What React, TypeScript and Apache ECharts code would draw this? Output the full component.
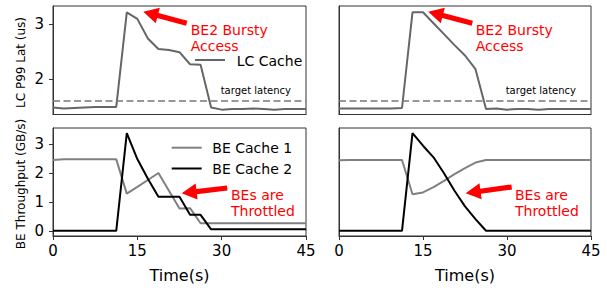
import React, { useEffect, useRef } from "react";
import * as echarts from "echarts";

const times = [0, 1.875, 3.75, 5.625, 7.5, 9.375, 11.25, 13.125, 15, 16.875, 18.75, 20.625, 22.5, 24.375, 26.25, 28.125, 30, 31.875, 33.75, 35.625, 37.5, 39.375, 41.25, 43.125, 45];

// LC P99 latency (us)
const lcLeft = [1.48, 1.46, 1.47, 1.48, 1.49, 1.49, 1.49, 3.22, 3.10, 2.74, 2.55, 2.53, 2.49, 2.27, 2.26, 1.48, 1.44, 1.45, 1.45, 1.46, 1.45, 1.44, 1.45, 1.45, 1.45];
const lcRight = [1.46, 1.46, 1.46, 1.46, 1.46, 1.46, 1.47, 3.22, 3.22, 3.02, 2.82, 2.62, 2.43, 2.18, 1.45, 1.46, 1.44, 1.45, 1.45, 1.44, 1.45, 1.45, 1.45, 1.45, 1.45];
const targetLatency = 1.6;

// BE throughput (GB/s)
const be1Left = [2.46, 2.48, 2.48, 2.48, 2.48, 2.48, 2.48, 1.30, 1.53, 1.77, 2.01, 1.40, 0.79, 0.80, 0.28, 0.28, 0.28, 0.28, 0.28, 0.28, 0.28, 0.28, 0.28, 0.28, 0.28];
const be2Left = [0.02, 0.02, 0.02, 0.02, 0.02, 0.02, 0.02, 3.38, 2.49, 1.81, 1.19, 1.19, 1.19, 0.57, 0.57, 0.07, 0.07, 0.07, 0.07, 0.07, 0.07, 0.07, 0.07, 0.07, 0.07];
const be1Right = [2.45, 2.46, 2.46, 2.46, 2.46, 2.46, 2.46, 1.28, 1.34, 1.52, 1.74, 1.97, 2.18, 2.37, 2.46, 2.46, 2.46, 2.46, 2.46, 2.46, 2.46, 2.46, 2.46, 2.46, 2.46];
const be2Right = [0.02, 0.02, 0.02, 0.02, 0.02, 0.02, 0.02, 3.38, 2.95, 2.55, 2.0, 1.40, 0.86, 0.42, 0.02, 0.02, 0.02, 0.02, 0.02, 0.02, 0.02, 0.02, 0.02, 0.02, 0.02];

const xTicks = [0, 15, 30, 45];
const topYTicks = [2, 3];
const bottomYTicks = [0, 1, 2, 3];

const FONT = "DejaVu Sans";
const AXIS = "#333";

const pairs = (vals: number[]) => times.map((t, i) => [t, vals[i]]);

function arrow(x1: number, y1: number, x2: number, y2: number) {
  const dx = x2 - x1;
  const dy = y2 - y1;
  const len = Math.sqrt(dx * dx + dy * dy);
  const ux = dx / len;
  const uy = dy / len;
  const nx = -uy;
  const ny = ux;
  const w = 2.6;
  const h = 8;
  const L = 15;
  const bx = x2 - ux * L;
  const by = y2 - uy * L;
  return {
    type: "polygon",
    silent: true,
    shape: {
      points: [
        [x1 + nx * w, y1 + ny * w],
        [bx + nx * w, by + ny * w],
        [bx + nx * h, by + ny * h],
        [x2, y2],
        [bx - nx * h, by - ny * h],
        [bx - nx * w, by - ny * w],
        [x1 - nx * w, y1 - ny * w],
      ],
    },
    style: { fill: "#ff0000" },
  };
}

function txt(x: number, y: number, text: string, size: number, color = "#000", align = "left", valign = "middle", lineHeight?: number) {
  return {
    type: "text",
    x,
    y,
    silent: true,
    style: {
      text,
      fill: color,
      font: `${size}px "${FONT}"`,
      fontSize: size,
      fontFamily: FONT,
      align,
      verticalAlign: valign,
      lineHeight: lineHeight ?? Math.round(size * 1.15),
    },
  };
}

function legendLine(x1: number, x2: number, y: number, color: string) {
  return {
    type: "line",
    silent: true,
    shape: { x1, y1: y, x2, y2: y },
    style: { stroke: color, lineWidth: 2 },
  };
}

const grids = [
  { left: 53, top: 6, width: 253, height: 108.5 },
  { left: 339, top: 6, width: 252, height: 108.5 },
  { left: 53, top: 128, width: 253, height: 108 },
  { left: 339, top: 128, width: 252, height: 108 },
];

function xAxis(gridIndex: number, showLabels: boolean) {
  return {
    type: "value",
    gridIndex,
    min: 0,
    max: 45,
    interval: 15,
    axisLine: { show: true, onZero: false, lineStyle: { color: AXIS, width: 1 } },
    axisTick: { show: showLabels, length: 4, lineStyle: { color: AXIS, width: 1 } },
    axisLabel: { show: showLabels, margin: 7, fontSize: 15, fontFamily: FONT, color: "#000", customValues: xTicks },
    splitLine: { show: false },
  };
}

function yAxis(gridIndex: number, min: number, max: number, ticks: number[], showLabels: boolean) {
  return {
    type: "value",
    gridIndex,
    min,
    max,
    axisLine: { show: true, onZero: false, lineStyle: { color: AXIS, width: 1 } },
    axisTick: { show: showLabels, length: 4, customValues: ticks, lineStyle: { color: AXIS, width: 1 } },
    axisLabel: { show: showLabels, margin: 9, fontSize: 15, fontFamily: FONT, color: "#000", customValues: ticks },
    splitLine: { show: false },
  };
}

function line(name: string, data: number[], idx: number, color: string, target = false) {
  const s: any = {
    type: "line",
    name,
    xAxisIndex: idx,
    yAxisIndex: idx,
    data: pairs(data),
    showSymbol: false,
    symbol: "none",
    lineStyle: { color, width: 2 },
    itemStyle: { color },
    z: 3,
  };
  if (target) {
    s.markLine = {
      silent: true,
      symbol: ["none", "none"],
      label: { show: false },
      lineStyle: { type: [7, 3.5], color: "#777", width: 1.6 },
      data: [{ yAxis: targetLatency }],
    };
  }
  return s;
}

export default function App() {
  const ref = useRef<HTMLDivElement>(null);
  useEffect(() => {
    if (!ref.current) return;
    const chart = echarts.init(ref.current, null, { renderer: "svg" });
    chart.setOption({
      animation: false,
      backgroundColor: "#fff",
      textStyle: { fontFamily: FONT },
      grid: grids.map((g) => ({ ...g, show: true, borderColor: AXIS, borderWidth: 1, backgroundColor: "transparent" })),
      xAxis: [xAxis(0, false), xAxis(1, false), xAxis(2, true), xAxis(3, true)],
      yAxis: [
        yAxis(0, 1.351, 3.335, topYTicks, true),
        yAxis(1, 1.351, 3.335, topYTicks, false),
        yAxis(2, -0.16, 3.56, bottomYTicks, true),
        yAxis(3, -0.16, 3.56, bottomYTicks, false),
      ],
      series: [
        line("LC Cache", lcLeft, 0, "#666666", true),
        line("LC Cache", lcRight, 1, "#666666", true),
        line("BE Cache 1", be1Left, 2, "#808080"),
        line("BE Cache 2", be2Left, 2, "#000000"),
        line("BE Cache 1", be1Right, 3, "#808080"),
        line("BE Cache 2", be2Right, 3, "#000000"),
      ],
      graphic: [
        // axis titles
        { ...txt(21, 62.5, "LC P99 Lat (us)", 12, "#000", "center", "middle"), rotation: Math.PI / 2 },
        { ...txt(21, 184, "BE Throughput (GB/s)", 12, "#000", "center", "middle"), rotation: Math.PI / 2 },
        txt(179.5, 275, "Time(s)", 16, "#000", "center", "middle"),
        txt(465, 275, "Time(s)", 16, "#000", "center", "middle"),
        // legends
        legendLine(195, 225, 60, "#666666"),
        txt(236.7, 60.5, "LC Cache", 14),
        legendLine(171.7, 201.7, 147.7, "#808080"),
        txt(212.3, 148, "BE Cache 1", 14),
        legendLine(171.7, 201.7, 168.5, "#000000"),
        txt(212.3, 168.5, "BE Cache 2", 14),
        // target latency labels
        txt(220.7, 90, "target latency", 10),
        txt(505.7, 90, "target latency", 10),
        // annotations
        arrow(186.7, 23.3, 143.3, 11.7),
        txt(190.7, 22, "BE2 Bursty\nAccess", 14, "#ff0000", "left", "top", 16),
        arrow(472.3, 23.3, 428.3, 11.7),
        txt(475.7, 22, "BE2 Bursty\nAccess", 14, "#ff0000", "left", "top", 16),
        arrow(227.2, 188, 181.7, 193.3),
        txt(231, 186.5, "BEs are\nThrottled", 14, "#ff0000", "left", "top", 16),
        arrow(511.7, 187, 465.7, 193.3),
        txt(515, 186.5, "BEs are\nThrottled", 14, "#ff0000", "left", "top", 16),
      ],
    });
    return () => chart.dispose();
  }, []);
  return <div ref={ref} style={{ position: "fixed", left: 0, top: 0, width: 607, height: 288 }} />;
}
